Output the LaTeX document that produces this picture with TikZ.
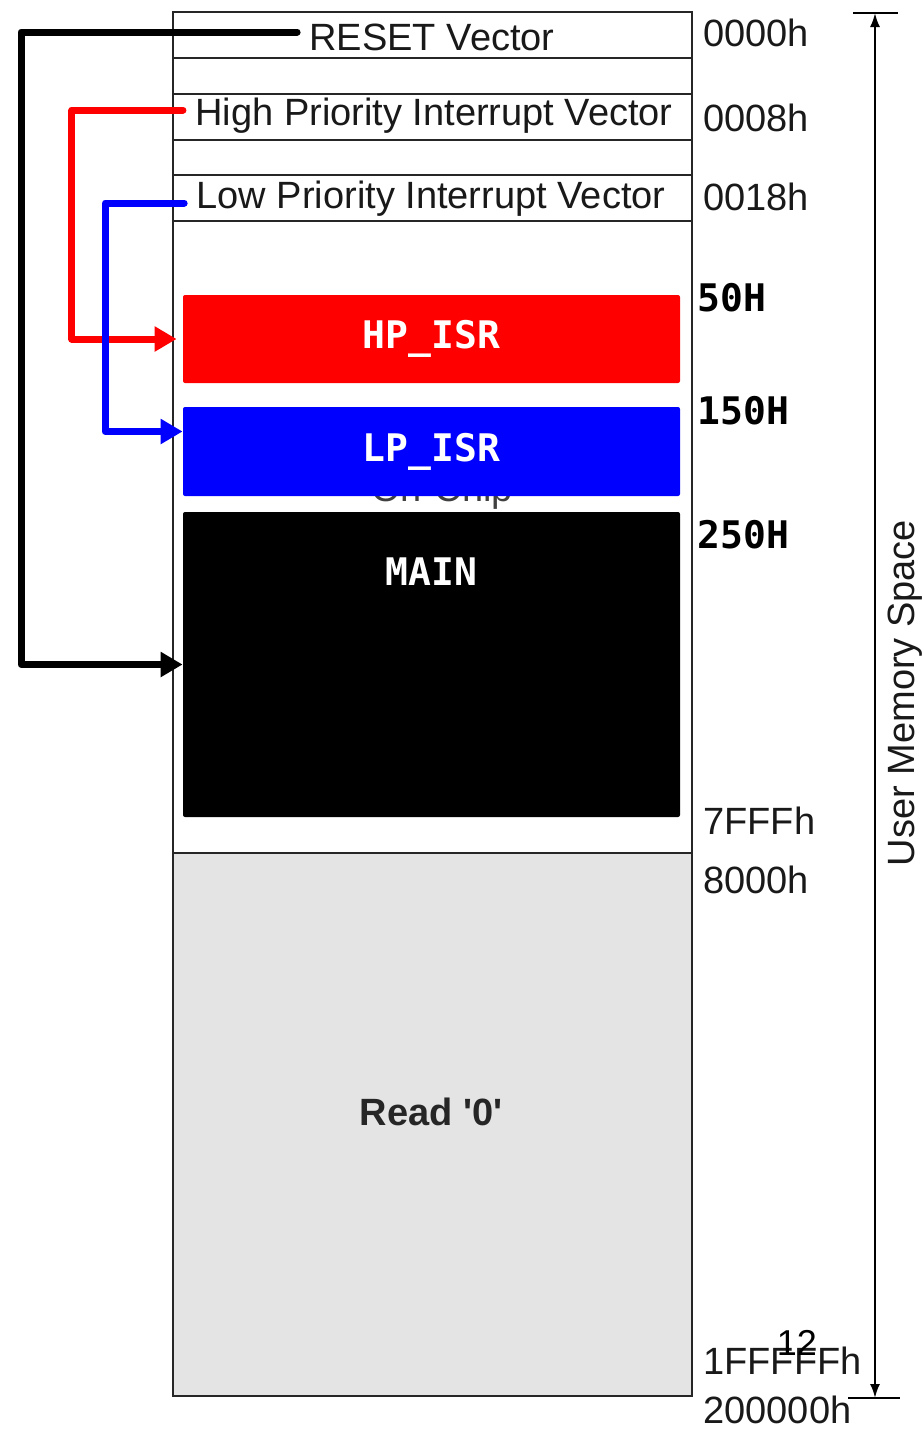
\documentclass[tikz,border=0pt]{standalone}
\usepackage{fontspec}
\setmainfont{Liberation Sans}
\setmonofont{DejaVu Sans Mono}
\usetikzlibrary{arrows.meta, positioning}
\definecolor{isrred}{RGB}{255, 0, 0}
\definecolor{isrblue}{RGB}{0, 0, 255}
\definecolor{readgray}{RGB}{228, 228, 228}

\begin{document}
\begin{tikzpicture}[
    x=0.5pt, y=-0.5pt,
    vecrow/.style={font=\fontsize{19}{21}\selectfont, text=black!90, inner sep=6pt},
    isr/.style={rectangle, rounded corners=1pt, fill=#1, minimum width=248.5pt, minimum height=44pt, inner sep=0pt},
    isrtxt/.style={font=\fontsize{19}{21}\selectfont\ttfamily\bfseries, text=white},
    addr/.style={font=\fontsize{19}{21}\selectfont, anchor=west, inner sep=0pt, text=black!90},
    addrb/.style={font=\fontsize{19}{21}\selectfont\ttfamily\bfseries, anchor=west, inner sep=0pt},
    memline/.style={line width=0.8pt, color=black!85},
    link/.style={draw=#1, line width=3.5pt, line cap=round, line join=round, -{Triangle[length=11pt, width=12pt]}},
    dimarr/.style={line width=1pt, {Latex[length=7pt, width=5pt]}-{Latex[length=7pt, width=5pt]}}
]
\useasboundingbox (0,0) rectangle (924,1432);

% Memory map frame
\fill[readgray] (173,853) rectangle (692,1396);
\draw[memline] (173,12) rectangle (692,1396);
\foreach \yy in {58, 94, 140, 175, 221, 853}
    \draw[memline] (173,\yy) -- (692,\yy);

% Vector rows
\node[vecrow] (reset) at (432,37) {RESET Vector};
\node[vecrow] (hpv) at (434,116) {High Priority Interrupt Vector};
\node[vecrow] (lpv) at (431,199) {Low Priority Interrupt Vector};

% Hidden label under LP_ISR
\node[vecrow, anchor=base, inner sep=0pt, text=black!75] (onchip) at (442,501) {On-Chip};

% Code blocks
\node[isr=isrred] (hpisr) at (431.5,339) {};
\node[isrtxt] at (hpisr) {HP\_ISR};
\node[isr=isrblue, minimum height=44.5pt] (lpisr) at (431.5,451.5) {};
\node[isrtxt] at (lpisr) {LP\_ISR};
\node[isr=black, minimum height=152.5pt] (mainblk) at (431.5,664.5) {};
\node[isrtxt] (mainlbl) at ([yshift=-30pt]mainblk.north) {MAIN};
\node[vecrow, font=\fontsize{19}{21}\selectfont\bfseries, text=black!85] (readz) at (431,1112) {Read \textquotesingle0\textquotesingle};

% Addresses
\node[addr] (a0000) at (703,33) {0000h};
\node[addr] (a0008) at (703,118) {0008h};
\node[addr] (a0018) at (703,197) {0018h};
\node[addrb] (a50) at (697,298) {50H};
\node[addrb] (a150) at (697,411) {150H};
\node[addrb] (a250) at (697,535) {250H};
\node[addr] (a7fff) at (703,821) {7FFFh};
\node[addr] (a8000) at (703,880) {8000h};
\node[addr] (a1fff) at (703,1361) {1FFFFFh};
\node[addr] (a2000) at (703,1410) {200000h};

% User memory span
\coordinate (memtop) at (875,13);
\coordinate (membot) at (875,1398);
\draw[line width=1pt] (853,13) -- (898,13);
\draw[line width=1pt] (848,1398) -- (900,1398);
\draw[dimarr] (memtop) -- (membot);
\node[vecrow, rotate=90] (ums) at (905,693) {User Memory Space};

% Page number
\node[font=\fontsize{18}{20}\selectfont, inner sep=0pt] (pgnum) at (797,1343) {12};

% Vector jumps
\draw[link=black] ([yshift=2.5pt]reset.west) -- ++(-276,0) |- (mainblk.west);
\draw[link=isrred] ([yshift=3pt]hpv.west) -- ++(-111,0) |- ([xshift=-3pt]hpisr.west);
\draw[link=isrblue] ([yshift=-2pt]lpv.west) -- ++(-79,0) |- ([yshift=10pt]lpisr.west);

\end{tikzpicture}
\end{document}
